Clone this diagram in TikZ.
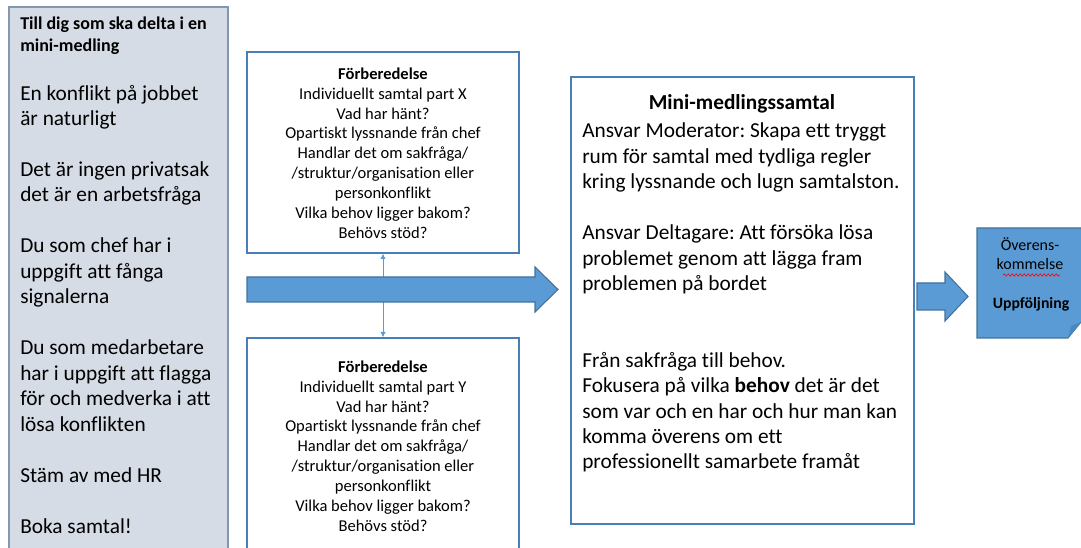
\documentclass[tikz,border=0pt]{standalone}
\usepackage{fontspec}
\setmainfont{Carlito}[Ligatures=NoCommon]
\frenchspacing
\usetikzlibrary{fit,arrows.meta,decorations.pathmorphing}
\definecolor{panelfill}{HTML}{D6DCE5}
\definecolor{panelline}{HTML}{8497B0}
\definecolor{boxline}{HTML}{4A7EBB}
\definecolor{arrowfill}{HTML}{5B9BD5}
\definecolor{arrowline}{HTML}{41719C}
\definecolor{foldfill}{HTML}{4A88C2}
\tikzset{
  panel/.style={draw=panelline, fill=panelfill, line width=0.9pt, inner sep=0pt},
  box/.style={draw=boxline, fill=white, line width=1pt, inner sep=0pt},
  blockarrow/.style={fill=arrowfill, draw=arrowline, line width=0.8pt, line join=miter},
  link/.style={draw=arrowfill, line width=0.6pt, {Latex[length=4pt,width=4pt]}-{Latex[length=4pt,width=4pt]}},
  introtitle/.style={inner sep=0pt, align=left, font=\fontsize{13.5pt}{16.5pt}\selectfont\bfseries},
  bigtxt/.style={inner sep=0pt, align=left, font=\fontsize{16pt}{19.1pt}\selectfont},
  midtxt/.style={inner sep=0pt, align=center, font=\fontsize{12.4pt}{14.9pt}\selectfont},
  notetxt/.style={inner sep=0pt, align=center, font=\fontsize{12pt}{14.3pt}\selectfont}
}
\begin{document}
\begin{tikzpicture}[x=0.75pt,y=-0.75pt]
\clip (0,0) rectangle (1081,548);
% left panel
\node[panel, fit={(9,7) (228,570)}] (intro) {};
\node[introtitle, anchor=base west] (introTitle) at (20,52) {Till dig som ska delta i en\\mini-medling};
\node[bigtxt, anchor=base west] (introBody) at (20,533) {En konflikt på jobbet\\är naturligt\\[19.1pt]%
Det är ingen privatsak\\det är en arbetsfråga\\[19.1pt]%
Du som chef har i\\uppgift att fånga\\signalerna\\[19.1pt]%
Du som medarbetare\\har i uppgift att flagga\\för och medverka i att\\lösa konflikten\\[19.1pt]%
Stäm av med HR\\[19.1pt]%
Boka samtal!};
% preparation boxes
\node[box, fit={(247,52) (519,253)}] (prepX) {};
\node[midtxt] (prepXtxt) at (383,153) {\textbf{Förberedelse}\\Individuellt samtal part X\\Vad har hänt?\\Opartiskt lyssnande från chef\\Handlar det om sakfråga/\\/struktur/organisation eller\\personkonflikt\\Vilka behov ligger bakom?\\Behövs stöd?};
\node[box, fit={(247,338) (519,570)}] (prepY) {};
\node[midtxt] (prepYtxt) at (383,446) {\textbf{Förberedelse}\\Individuellt samtal part Y\\Vad har hänt?\\Opartiskt lyssnande från chef\\Handlar det om sakfråga/\\/struktur/organisation eller\\personkonflikt\\Vilka behov ligger bakom?\\Behövs stöd?};
\draw[link] (prepX.south) -- (prepY.north);
% big arrow
\draw[blockarrow] (247,277) -- (535,277) -- (535,267) -- (558,289.5) -- (535,312) -- (535,302) -- (247,302) -- cycle;
% mini-medling box
\node[box, fit={(571,77) (914,524)}] (mini) {};
\node[inner sep=0pt, font=\fontsize{16pt}{19pt}\selectfont\bfseries, anchor=base] (miniTitle) at (742,110) {Mini-medlingssamtal};
\node[bigtxt, anchor=base west] (miniBody) at (582,469) {Ansvar Moderator: Skapa ett tryggt\\rum för samtal med tydliga regler\\kring lyssnande och lugn samtalston.\\[19.1pt]%
Ansvar Deltagare: Att försöka lösa\\problemet genom att lägga fram\\problemen på bordet\\[38.2pt]%
Från sakfråga till behov.\\Fokusera på vilka \textbf{behov} det är det\\som var och en har och hur man kan\\komma överens om ett\\professionellt samarbete framåt};
% small arrow
\draw[blockarrow] (917,283) -- (945,283) -- (945,272) -- (968,296.5) -- (945,321) -- (945,310) -- (917,310) -- cycle;
% note
\draw[blockarrow] (977,228) -- (1090,228) -- (1090,318) -- (1081,322) -- (1068,338) -- (977,338) -- cycle;
\fill[foldfill] (1068,338) -- (1071,326) -- (1081,322) -- cycle;
\node[notetxt, anchor=base] (noteA) at (1030,251) {Överens-};
\node[notetxt, anchor=base] (noteB) at (1030,270) {kommelse};
\draw[red, line width=0.5pt, decorate, decoration={snake, amplitude=0.8pt, segment length=3pt}] (1003,275) -- (1060,275);
\node[inner sep=0pt, font=\fontsize{11.8pt}{13pt}\selectfont\bfseries, anchor=base] (noteC) at (1031,309) {Uppföljning};
\end{tikzpicture}
\end{document}
